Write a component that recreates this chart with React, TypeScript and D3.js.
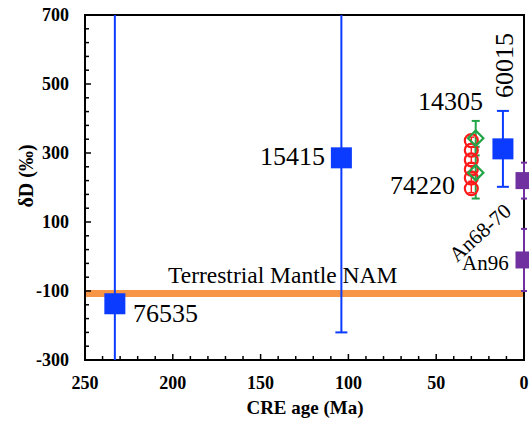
import * as d3 from "d3"

// lunar samples (blue squares)
const lunarNames = ["76535", "15415", "60015"]
const lunarAge = [233, 104, 12]
const lunarDD = [-137, 286, 312]
const lunarErr = [880, 506, 110]

// 14305 (green diamonds)
const greenAge = [27.5, 27.5]
const greenDD = [343, 243]
const greenErr = [50, 75]

// 74220 (red circles)
const redAge = [30, 30, 30, 30, 30, 30]
const redDD = [336, 308, 280, 253, 228, 197]
const redErr = [10, 10, 10, 10, 10, 12]

// anorthosites (purple squares)
const anNames = ["An68-70", "An96"]
const anAge = [0, 0]
const anDD = [220, -10]
const anErr = [52, 90]

const namValue = -107

const xMajor = [250, 200, 150, 100, 50, 0]
const yMajor = [-300, -100, 100, 300, 500, 700]

const W = 529
const H = 423
const left = 85, right = 524, top = 15, bottom = 360

export default function App() {
  const x = d3.scaleLinear().domain([250, 0]).range([left, right])
  const y = d3.scaleLinear().domain([-300, 700]).range([bottom, top])
  const xMinor = d3.range(0, 251, 10)
  const yMinor = d3.range(-300, 701, 40)

  const blue = "#0a3bff"
  const green = "#22a447"
  const red = "#ff1a1a"
  const purple = "#7030a0"
  const orange = "#f79646"
  const serif = "Liberation Serif, Tinos, Times New Roman, serif"

  const errBar = (cx: number, v: number, e: number, color: string, cap: number, key: string, sw = 2) => (
    <g key={key} stroke={color} strokeWidth={sw}>
      <line x1={x(cx)} x2={x(cx)} y1={y(v + e)} y2={y(v - e)} />
      <line x1={x(cx) - cap} x2={x(cx) + cap} y1={y(v + e)} y2={y(v + e)} />
      <line x1={x(cx) - cap} x2={x(cx) + cap} y1={y(v - e)} y2={y(v - e)} />
    </g>
  )

  return (
    <svg width={W} height={H} style={{ position: "absolute", left: 0, top: 0, background: "#fff", fontFamily: serif }}>
      <defs>
        <clipPath id="plot">
          <rect x={left} y={top} width={right - left} height={bottom - top} />
        </clipPath>
      </defs>

      {/* NAM band */}
      <line x1={left} x2={right} y1={y(namValue)} y2={y(namValue)} stroke={orange} strokeWidth={7} />
      <text x={168} y={283} fontSize={23.5}>Terrestrial Mantle NAM</text>

      {/* frame */}
      <rect x={left} y={top} width={right - left} height={bottom - top} fill="none" stroke="#000" strokeWidth={2} />

      {/* ticks */}
      {xMinor.map(t => (
        <line key={"xm" + t} x1={x(t)} x2={x(t)} y1={bottom} y2={bottom - (t % 50 === 0 ? 6 : 4)} stroke="#000" strokeWidth={1.5} />
      ))}
      {yMinor.map(t => (
        <line key={"ym" + t} x1={left} x2={left + (yMajor.includes(t) ? 6 : 4)} y1={y(t)} y2={y(t)} stroke="#000" strokeWidth={1.5} />
      ))}
      {xMajor.map(t => (
        <text key={"xl" + t} x={x(t)} y={389} textAnchor="middle" fontWeight="bold" fontSize={18}>{t}</text>
      ))}
      {yMajor.map(t => (
        <text key={"yl" + t} x={69} y={y(t) + 6} textAnchor="end" fontWeight="bold" fontSize={18}>{t}</text>
      ))}
      <text x={305} y={414} textAnchor="middle" fontWeight="bold" fontSize={19}>CRE age (Ma)</text>
      <text transform="translate(33,176) rotate(-90)" textAnchor="middle" fontWeight="bold" fontSize={20}>δD (‰)</text>

      {/* error bars */}
      <g clipPath="url(#plot)">
        {lunarAge.map((a, i) => errBar(a, lunarDD[i], lunarErr[i], blue, 6, "le" + i))}
      </g>
      {redAge.map((a, i) => errBar(a, redDD[i], redErr[i], red, 3, "re" + i, 1.5))}
      {greenAge.map((a, i) => errBar(a, greenDD[i], greenErr[i], green, 4, "ge" + i))}
      {anAge.map((a, i) => errBar(a, anDD[i], anErr[i], purple, 3, "ae" + i))}

      {/* markers */}
      {redAge.map((a, i) => (
        <circle key={"rc" + i} cx={x(a)} cy={y(redDD[i])} r={6.5} fill="none" stroke={red} strokeWidth={2.2} />
      ))}
      {greenAge.map((a, i) => (
        <path key={"gd" + i} d={d3.symbol(d3.symbolDiamond2, 150)()!} transform={`translate(${x(a)},${y(greenDD[i])})`} fill="none" stroke={green} strokeWidth={2.2} />
      ))}
      {lunarAge.map((a, i) => (
        <rect key={"ls" + i} x={x(a) - 10.5} y={y(lunarDD[i]) - 10.5} width={21} height={21} fill={blue} />
      ))}
      {anAge.map((a, i) => (
        <rect key={"as" + i} x={x(a) - 8.5} y={y(anDD[i]) - 8.5} width={17} height={17} fill={purple} />
      ))}

      {/* labels */}
      <text x={133} y={322} fontSize={26}>{lunarNames[0]}</text>
      <text x={325} y={165} textAnchor="end" fontSize={26}>{lunarNames[1]}</text>
      <text transform="translate(513,98) rotate(-90)" fontSize={26}>{lunarNames[2]}</text>
      <text x={418} y={110} fontSize={26}>14305</text>
      <text x={390} y={194} fontSize={26}>74220</text>
      <text transform="translate(457,263) rotate(-42)" fontSize={21}>{anNames[0]}</text>
      <text x={462} y={270} fontSize={21}>{anNames[1]}</text>
    </svg>
  )
}
